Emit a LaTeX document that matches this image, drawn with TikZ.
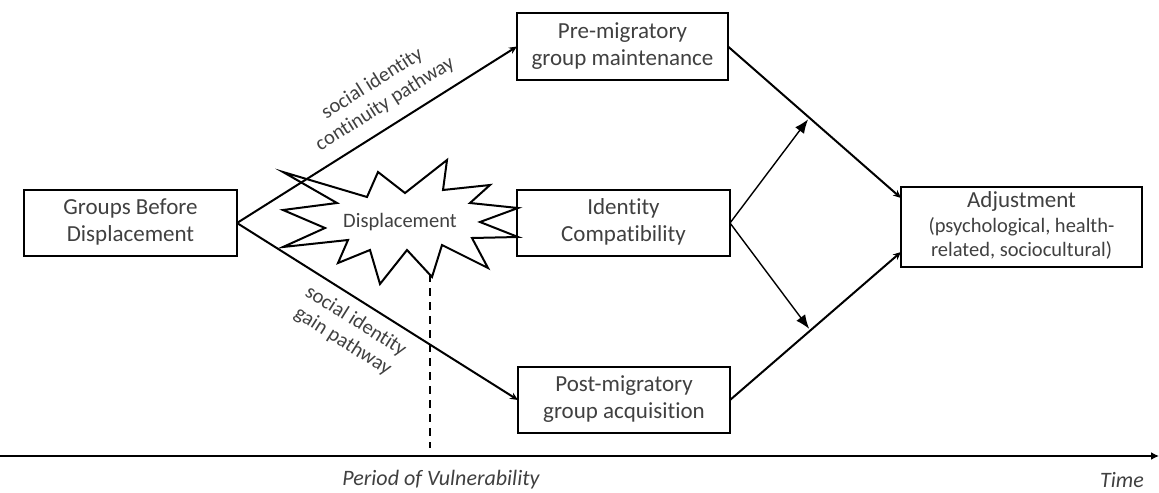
\documentclass[tikz,border=0pt]{standalone}
\usepackage{fontspec}
\setmainfont{Carlito}[Ligatures=NoCommon]
\usetikzlibrary{arrows.meta,calc}
\definecolor{txtColor}{HTML}{404040}
\tikzset{
	box/.style={draw, line width=1pt, outer sep=0, inner sep=0, text=txtColor,
		font=\fontsize{11.5}{13.5}\selectfont},
	path lab/.style={font=\fontsize{10.25}{12}\selectfont, text=txtColor, sloped, align=center, inner sep=1pt},
	time lab/.style={font=\fontsize{11}{13}\selectfont\itshape, text=txtColor}
}
\begin{document}
\begin{tikzpicture}[->,>={Stealth[length=4pt,width=3.5pt]},x=0.5pt,y=-0.5pt,
		line width=1pt]
	\useasboundingbox (0,0) rectangle (1159,492);
	\node[box, minimum width=106.5pt, minimum height=33pt] (grp) at (130.5, 223) {\begin{tabular}{c}
			Groups Before \\ Displacement
	\end{tabular}};
	\node[box, minimum width=105.5pt, minimum height=33.5pt] (pre) at (622.5, 46.5) {\begin{tabular}{c}
			Pre-migratory \\ group maintenance
	\end{tabular}};
	\node[box, minimum width=106.5pt, minimum height=33pt] (idc) at (623.5, 223) {\begin{tabular}{c}
			Identity \\ Compatibility
	\end{tabular}};
	\node[box, minimum width=106pt, minimum height=33pt] (post) at (624, 400) {\begin{tabular}{c}
			Post-migratory \\ group acquisition
	\end{tabular}};
	\node[box, minimum width=120.5pt, minimum height=40pt] (adj) at (1021.5, 227) {\begin{tabular}{c}
			Adjustment \\[-1pt] {\fontsize{10.25}{12}\selectfont (psychological, health-} \\[-1.5pt]
			{\fontsize{10.25}{12}\selectfont related, sociocultural)}
	\end{tabular}};
	
	% displacement burst
	\draw[-] (283,172) -- (367,197) -- (378,172) -- (405,193) -- (447,160) -- (443,190)
		-- (490,185) -- (470,203) -- (518,208) -- (480,222) -- (518,237) -- (472,238)
		-- (488,268) -- (442,245) -- (432,277) -- (407,250) -- (380,284) -- (370,250)
		-- (338,263) -- (348,240) -- (283,247) -- (325,228) -- (283,210) -- (337,203) -- cycle;
	\node[text=txtColor, font=\fontsize{10.25}{12}\selectfont] (burst) at (400, 222) {Displacement};
	\coordinate (burstTip) at (430, 274);
	\coordinate (dashEnd) at (430, 448);
	
	% time axis
	\coordinate (axL) at (0, 456);
	\coordinate (axR) at (1159, 456);
	\draw[-{Latex[length=4pt,width=4pt]}, line width=1.2pt] (axL) -- (axR);
	\node[time lab] (vul) at (441, 480) {Period of Vulnerability};
	\node[time lab] (time) at (1122, 480) {Time};
	\draw[-, dash pattern=on 4pt off 3pt] (burstTip) -- (dashEnd);
	
	\coordinate (adjUp) at ([yshift=14.5pt]adj.west);
	\coordinate (adjLo) at ([yshift=-12.5pt]adj.west);
	
	\draw (grp.east) -- (pre.west) node[path lab, above=5pt, pos=0.57] {social identity \\ continuity pathway};
	\draw (grp.east) -- (post.west) node[path lab, below=4pt, pos=0.46] {social identity \\ gain pathway};
	\draw (pre.east) -- (adjUp);
	\draw (post.east) -- (adjLo);
	\draw[-{Latex[length=7pt,width=5.5pt]}, line width=0.7pt, shorten >=1pt] (idc.east) -- ($(pre.east)!0.47!(adjUp)$);
	\draw[-{Latex[length=7pt,width=5.5pt]}, line width=0.7pt, shorten >=1pt] (idc.east) -- ($(post.east)!0.47!(adjLo)$);
\end{tikzpicture}
\end{document}
